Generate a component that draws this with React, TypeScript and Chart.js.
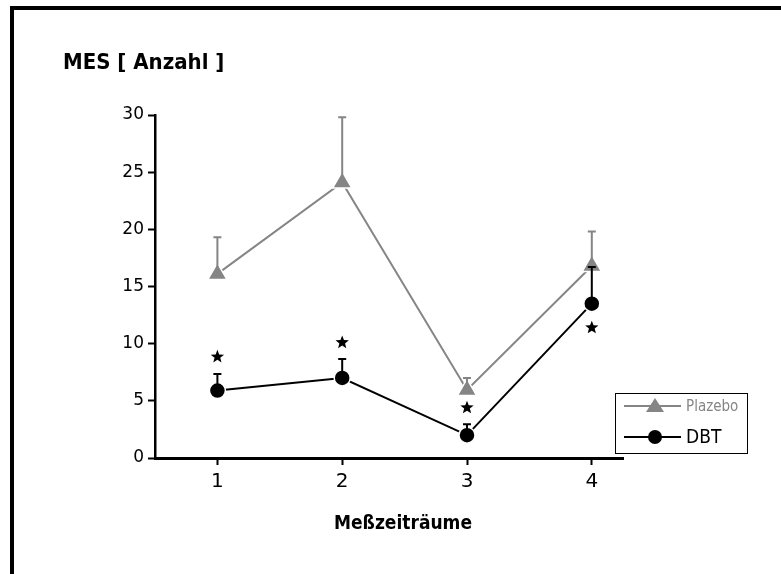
import { useEffect, useRef } from "react";
import { Chart, registerables } from "chart.js";
Chart.register(...registerables);

const periods = [1, 2, 3, 4];
const placeboMean = [16.1, 24.1, 5.95, 16.8];
const placeboUpper = [19.3, 29.8, 7.0, 19.8];
const dbtMean = [5.9, 7.0, 2.0, 13.5];
const dbtUpper = [7.35, 8.65, 2.95, 16.7];
const starY = [8.85, 10.1, 4.4, 11.4];
const yTicks = [0, 5, 10, 15, 20, 25, 30];
const seriesNames = ["Plazebo", "DBT"];
const yTitle = "MES [ Anzahl ]";
const xTitle = "Meßzeiträume";

const GREY = "#858585";
const FAM = "'DejaVu Sans', sans-serif";

function starPath(ctx: CanvasRenderingContext2D, cx: number, cy: number, ro: number, ri: number) {
  ctx.beginPath();
  for (let i = 0; i < 10; i++) {
    const r = i % 2 === 0 ? ro : ri;
    const a = -Math.PI / 2 + (i * Math.PI) / 5;
    const px = cx + r * Math.cos(a);
    const py = cy + r * Math.sin(a);
    if (i === 0) ctx.moveTo(px, py);
    else ctx.lineTo(px, py);
  }
  ctx.closePath();
}

const overlay = {
  id: "overlay",
  beforeDraw(chart: any) {
    const ctx = chart.ctx as CanvasRenderingContext2D;
    ctx.save();
    ctx.fillStyle = "#fff";
    ctx.fillRect(0, 0, chart.width, chart.height);
    ctx.fillStyle = "#000";
    ctx.fillRect(10, 6, 4, chart.height - 6);
    ctx.fillRect(10, 6, chart.width - 10, 4);
    ctx.font = `condensed 600 22px ${FAM}`;
    ctx.textBaseline = "middle";
    ctx.textAlign = "left";
    ctx.fillText(yTitle, 63, 63);
    ctx.textAlign = "center";
    ctx.font = `condensed 600 19px ${FAM}`;
    ctx.fillText(xTitle, 403, 524);
    ctx.restore();
  },
  afterDatasetsDraw(chart: any) {
    const ctx = chart.ctx as CanvasRenderingContext2D;
    const xs = chart.scales.x;
    const ys = chart.scales.y;
    ctx.save();
    const drawErr = (means: number[], uppers: number[], color: string) => {
      ctx.strokeStyle = color;
      ctx.lineWidth = 2;
      periods.forEach((p, i) => {
        const x = xs.getPixelForValue(p);
        const y0 = ys.getPixelForValue(means[i]);
        const y1 = ys.getPixelForValue(uppers[i]);
        ctx.beginPath();
        ctx.moveTo(x, y0);
        ctx.lineTo(x, y1);
        ctx.moveTo(x - 4, y1);
        ctx.lineTo(x + 4, y1);
        ctx.stroke();
      });
    };
    drawErr(placeboMean, placeboUpper, GREY);
    drawErr(dbtMean, dbtUpper, "#000");
    ctx.fillStyle = "#000";
    periods.forEach((p, i) => {
      starPath(ctx, xs.getPixelForValue(p), ys.getPixelForValue(starY[i]), 7, 3);
      ctx.fill();
    });
    // legend
    const lx = 615, ly = 393, lw = 132, lh = 60;
    ctx.fillStyle = "#fff";
    ctx.fillRect(lx, ly, lw, lh);
    ctx.strokeStyle = "#000";
    ctx.lineWidth = 1;
    ctx.strokeRect(lx + 0.5, ly + 0.5, lw, lh);
    const rows = [
      { y: 406, color: GREY, name: seriesNames[0], font: `condensed 15px ${FAM}`, tri: true },
      { y: 437, color: "#000", name: seriesNames[1], font: `condensed 19px ${FAM}`, tri: false },
    ];
    rows.forEach((r) => {
      ctx.strokeStyle = r.color;
      ctx.fillStyle = r.color;
      ctx.lineWidth = 2;
      ctx.beginPath();
      ctx.moveTo(624, r.y);
      ctx.lineTo(681, r.y);
      ctx.stroke();
      ctx.beginPath();
      if (r.tri) {
        ctx.moveTo(655, r.y - 8);
        ctx.lineTo(664, r.y + 6);
        ctx.lineTo(646, r.y + 6);
        ctx.closePath();
      } else {
        ctx.arc(655, r.y, 7, 0, Math.PI * 2);
      }
      ctx.fill();
      ctx.font = r.font;
      ctx.textAlign = "left";
      ctx.textBaseline = "middle";
      ctx.fillText(r.name, 686, r.y + 1);
    });
    ctx.restore();
  },
};

export default function App() {
  const ref = useRef<HTMLCanvasElement>(null);
  useEffect(() => {
    document.body.style.margin = "0";
    const canvas = ref.current!;
    const chart = new Chart(canvas, {
      type: "line",
      data: {
        datasets: [
          {
            label: seriesNames[0],
            data: periods.map((p, i) => ({ x: p, y: placeboMean[i] })),
            borderColor: GREY,
            backgroundColor: GREY,
            borderWidth: 2,
            pointStyle: "triangle",
            pointRadius: 11,
            pointBorderColor: "#fff",
            pointBorderWidth: 1.5,
            pointBackgroundColor: GREY,
            clip: false as any,
          },
          {
            label: seriesNames[1],
            data: periods.map((p, i) => ({ x: p, y: dbtMean[i] })),
            borderColor: "#000",
            backgroundColor: "#000",
            borderWidth: 2,
            pointStyle: "circle",
            pointRadius: 8,
            pointBorderColor: "#fff",
            pointBorderWidth: 1.5,
            pointBackgroundColor: "#000",
            clip: false as any,
          },
        ],
      },
      options: {
        responsive: false,
        animation: false,
        events: [],
        layout: { padding: { left: 0, top: 115, right: 158, bottom: 0 } },
        plugins: { legend: { display: false }, tooltip: { enabled: false } },
        scales: {
          x: {
            type: "linear",
            min: 0.5,
            max: 4.25,
            afterBuildTicks: (s: any) => {
              s.ticks = periods.map((v) => ({ value: v }));
            },
            afterFit: (s: any) => {
              s.height = 116;
            },
            grid: {
              display: true,
              drawOnChartArea: false,
              drawTicks: true,
              tickLength: 7,
              tickColor: "#000",
              tickWidth: 2,
            },
            border: { display: true, color: "#000", width: 3 },
            ticks: {
              color: "#000",
              padding: 5,
              font: { family: FAM, size: 20, style: "condensed" as any },
              maxRotation: 0,
            },
          },
          y: {
            type: "linear",
            min: 0,
            max: 30,
            afterBuildTicks: (s: any) => {
              s.ticks = yTicks.map((v) => ({ value: v }));
            },
            afterFit: (s: any) => {
              s.width = 155;
            },
            grid: {
              display: true,
              drawOnChartArea: false,
              drawTicks: true,
              tickLength: 7,
              tickColor: "#000",
              tickWidth: 2,
            },
            border: { display: true, color: "#000", width: 2.5 },
            ticks: {
              color: "#000",
              padding: 4,
              font: { family: FAM, size: 17 },
            },
          },
        },
      },
      plugins: [overlay],
    });
    return () => chart.destroy();
  }, []);
  return (
    <div style={{ width: 781, height: 574 }}>
      <canvas ref={ref} width={781} height={574} style={{ width: 781, height: 574, display: "block" }} />
    </div>
  );
}
